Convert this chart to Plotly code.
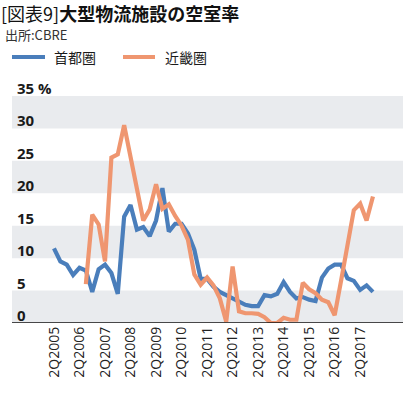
import plotly.graph_objects as go

# ---- data ----
quarters = []
for y in range(2005, 2018):
    for q in (1, 2, 3, 4):
        quarters.append(f"{q}Q{y}")
quarters = quarters[1:]  # 2Q2005 .. 4Q2017 (51 quarters)

shutoken = [11.5, 9.5, 9.0, 7.4, 8.5, 8.1, 4.8, 8.3, 9.0, 7.7,
            4.5, 16.4, 18.2, 14.4, 14.8, 13.4, 15.8, 20.8, 14.1, 15.3,
            15.3, 13.8, 11.3, 6.8, 6.8, 5.6, 4.8, 4.3, 3.8, 3.2,
            2.8, 2.6, 2.6, 4.3, 4.1, 4.5, 6.3, 4.8, 3.8, 4.0,
            3.6, 3.4, 7.0, 8.4, 9.0, 9.0, 6.9, 6.5, 5.1, 5.8,
            4.8]
kinki = [None, None, None, None, None,
         6.0, 16.7, 15.2, 9.5, 25.5, 26.0, 30.5, 25.5, 20.5, 15.8,
         17.5, 21.4, 17.6, 18.3, 16.5, 15.0, 12.8, 7.5, 5.9, 7.0,
         5.8, 3.8, 0.2, 8.7, 1.8, 1.5, 1.5, 1.4, 0.9, 0.0,
         0.0, 0.8, 0.5, 0.5, 6.2, 5.2, 4.6, 3.6, 3.2, 1.2,
         6.5, 12.0, 17.4, 18.4, 15.8, 19.5]

series_names = ["首都圏", "近畿圏"]
colors = ["#4A7EBB", "#EF9670"]
tick_labels = [f"2Q{y}" for y in range(2005, 2018)]
y_ticks = [0, 5, 10, 15, 20, 25, 30, 35]

W, H = 419, 397
L, R, T, B = 12, 16, 96, 74
pw, ph = W - L - R, H - T - B

def px_x(p):
    return (p - L) / pw

def px_y(p):
    return (H - B - p) / ph

fig = go.Figure()
for name, vals, c in zip(series_names, [shutoken, kinki], colors):
    fig.add_trace(go.Scatter(x=quarters, y=vals, mode="lines", name=name,
                             line=dict(color=c, width=4.2), showlegend=False,
                             connectgaps=False))

shapes = []
for lo in (0, 10, 20, 30):
    shapes.append(dict(type="rect", xref="paper", yref="y", x0=0, x1=1, y0=lo, y1=lo + 5,
                       fillcolor="#E9EBEE", line=dict(width=0), layer="below"))
# axis line at zero
shapes.append(dict(type="line", xref="paper", yref="y", x0=0, x1=1, y0=0, y1=0,
                   line=dict(color="#111", width=1.5), layer="above"))

annotations = []
for v in y_ticks:
    annotations.append(dict(xref="paper", yref="y", x=px_x(15), y=v, xanchor="left",
                            yanchor="bottom", yshift=-4, showarrow=False,
                            text=("35 %" if v == 35 else str(v)),
                            font=dict(family="Open Sans, Noto Sans", size=15, color="#1a1a1a", weight=700)))

# manual legend
leg_y = px_y(57)
for (x0, x1, tx), name, c in zip([(12, 45, 52), (123, 155, 163)], series_names, colors):
    shapes.append(dict(type="line", xref="paper", yref="paper", x0=px_x(x0), x1=px_x(x1),
                       y0=leg_y, y1=leg_y, line=dict(color=c, width=4)))
    annotations.append(dict(xref="paper", yref="paper", x=px_x(tx), y=leg_y, xanchor="left",
                            yanchor="middle", showarrow=False, text=name,
                            font=dict(family="Noto Sans CJK JP", size=14, color="#1a1a1a")))

annotations.append(dict(xref="paper", yref="paper", x=px_x(3), y=px_y(34), xanchor="left",
                        yanchor="middle", showarrow=False, text="出所:CBRE",
                        font=dict(family="Noto Sans CJK JP", size=13, color="#333")))

fig.update_layout(
    width=W, height=H,
    margin=dict(l=L, r=R, t=T, b=B, pad=0),
    plot_bgcolor="white", paper_bgcolor="white",
    title=dict(text="[図表9]<b>大型物流施設の空室率</b>", xref="container", yref="container",
               x=1 / W, xanchor="left", y=1 - 15 / H, yanchor="middle",
               font=dict(family="Noto Sans CJK JP", size=18, color="#111")),
    xaxis=dict(type="category", range=[-6.58, 54.71], tickmode="array",
               tickvals=tick_labels, ticktext=tick_labels, tickangle=-90,
               showgrid=False, zeroline=False, ticks="", showline=False,
               tickfont=dict(family="Open Sans, Noto Sans", size=14, color="#222")),
    yaxis=dict(range=[0, 35], showgrid=False, zeroline=False, showticklabels=False,
               showline=False, fixedrange=True),
    shapes=shapes, annotations=annotations,
)

fig.write_html("out.html", config={"displayModeBar": False},
               post_script="document.body.style.margin='0px';")
